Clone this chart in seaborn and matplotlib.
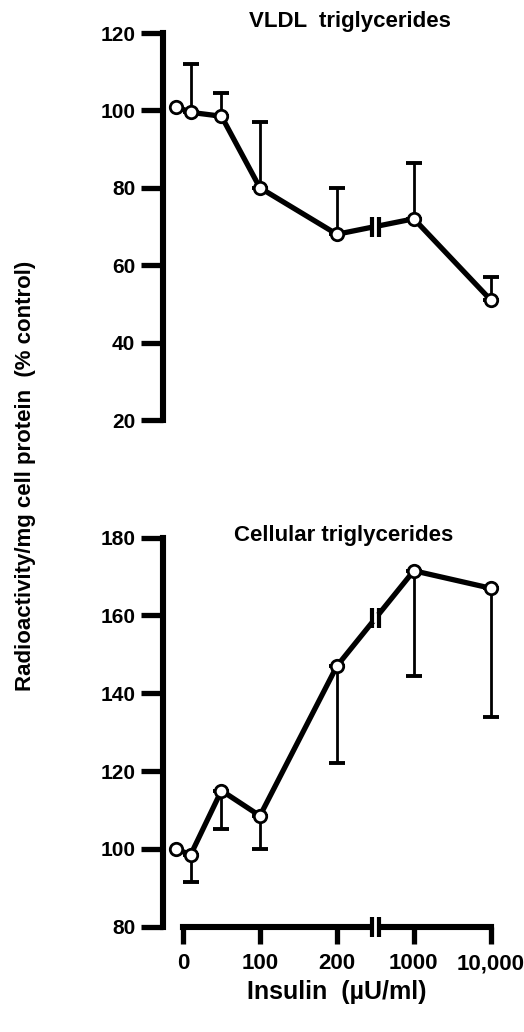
import numpy as np
import pandas as pd
import matplotlib
matplotlib.use("Agg")
import matplotlib.pyplot as plt
import matplotlib.transforms as mtransforms
import seaborn as sns

# insulin doses (uU/ml) and responses (% control)
doses = [0, 10, 50, 100, 200, 1000, 10000]
vldl_mean = [101, 99.5, 98.5, 80, 68, 72, 51]
vldl_sem = [0, 12.5, 6, 17, 12, 14.5, 6]
cell_mean = [100, 98.5, 115, 108.5, 147, 171.5, 167]
cell_sem = [0, 7, 10, 8.5, 25, 27, 33]

tick_doses = [0, 100, 200, 1000, 10000]
tick_labels = ['0', '100', '200', '1000', '10,000']
vldl_ticks = [20, 40, 60, 80, 100, 120]
cell_ticks = [80, 100, 120, 140, 160, 180]

sns.set_theme(style="ticks")
plt.rcParams['font.family'] = ['Liberation Sans', 'DejaVu Sans']
plt.rcParams['font.weight'] = 'bold'
plt.rcParams['text.color'] = 'black'
plt.rcParams['axes.labelcolor'] = 'black'

BREAK = 2.5


def dose_pos(d, nudge=True):
    # broken axis: linear up to 200, then one decade per unit
    if d == 0 and nudge:
        return -0.09
    return d / 100 if d <= 200 else np.log10(d)


def draw_panel(ax, mean, sem, upper, ylim, yticks, title, title_y):
    df = pd.DataFrame({'pos': [dose_pos(d) for d in doses], 'val': mean, 'sem': sem})
    if upper:
        yerr = [np.zeros(len(sem)), df['sem']]
    else:
        yerr = [df['sem'], np.zeros(len(sem))]
    err = df['sem'] > 0
    ax.errorbar(df['pos'][err], df['val'][err],
                yerr=[yerr[0][err.values], yerr[1][err.values]],
                fmt='none', ecolor='black', elinewidth=2.0, capsize=6, capthick=2.8, zorder=1)
    sns.lineplot(data=df, x='pos', y='val', ax=ax, color='black', linewidth=3.8,
                 zorder=2, sort=False)
    sns.scatterplot(data=df, x='pos', y='val', ax=ax, marker='o', s=80,
                    facecolor='white', edgecolor='black', linewidth=2.0, zorder=4)

    # break marks on the data line between 200 and 1000
    yb = np.interp(BREAK, df['pos'], df['val'])
    ax.plot([BREAK - 0.035, BREAK + 0.035], [yb, yb], color='white', linewidth=7,
            solid_capstyle='butt', zorder=3)
    ax.plot([BREAK - 0.045, BREAK + 0.045], [yb, yb], linestyle='none', marker='|',
            markersize=15, markeredgewidth=3, color='black', zorder=3)

    ax.set_xlim(-0.26, 4.2)
    ax.set_ylim(*ylim)
    ax.set_yticks(yticks)
    ax.set_yticklabels([str(t) for t in yticks], fontsize=15, fontweight='bold')
    ax.set_xlabel('')
    ax.set_ylabel('')
    ax.spines['top'].set_visible(False)
    ax.spines['right'].set_visible(False)
    ax.spines['left'].set_linewidth(4.4)
    ax.spines['left'].set_color('black')
    ax.tick_params(axis='y', direction='out', length=16, width=3.8, pad=4, colors='black')
    ax.set_facecolor('white')
    ax.figure.text(0.668, title_y, title, ha='center', va='center', fontsize=16,
                   fontweight='bold', color='black')


fig = plt.figure(figsize=(5.24, 10.32), dpi=100)
ax_top = fig.add_axes([0.311, 0.593, 0.655, 0.375])
ax_bot = fig.add_axes([0.311, 0.102, 0.655, 0.377])

draw_panel(ax_top, vldl_mean, vldl_sem, True, (20, 120), vldl_ticks,
           'VLDL  triglycerides', 0.979)
draw_panel(ax_bot, cell_mean, cell_sem, False, (80, 180), cell_ticks,
           'Cellular triglycerides', 0.481)
fig.texts[-1].set_x(0.655)

ax_top.spines['bottom'].set_visible(False)
ax_top.set_xticks([])

ax_bot.set_xticks([dose_pos(d, nudge=False) for d in tick_doses])
ax_bot.set_xticklabels(tick_labels, fontsize=16, fontweight='bold')
ax_bot.spines['bottom'].set_bounds(0, 4)
ax_bot.spines['bottom'].set_linewidth(4.4)
ax_bot.spines['bottom'].set_color('black')
ax_bot.tick_params(axis='x', direction='out', length=12, width=3.8, pad=7, colors='black')

# break on the x axis
trans = mtransforms.blended_transform_factory(ax_bot.transData, ax_bot.transAxes)
ax_bot.plot([BREAK - 0.035, BREAK + 0.035], [0, 0], color='white', linewidth=7,
            solid_capstyle='butt', transform=trans, clip_on=False, zorder=5)
ax_bot.plot([BREAK - 0.045, BREAK + 0.045], [0.0, 0.0], linestyle='none', marker='|',
            markersize=15, markeredgewidth=3, color='black', transform=trans,
            clip_on=False, zorder=6)

fig.text(0.048, 0.539, 'Radioactivity/mg cell protein  (% control)', rotation=90,
         ha='center', va='center', fontsize=16, fontweight='bold', color='black')
fig.text(0.643, 0.039, 'Insulin  (\u00b5U/ml)', ha='center', va='center',
         fontsize=18, fontweight='bold', color='black')

fig.savefig('out.png', dpi=100, facecolor='white')
